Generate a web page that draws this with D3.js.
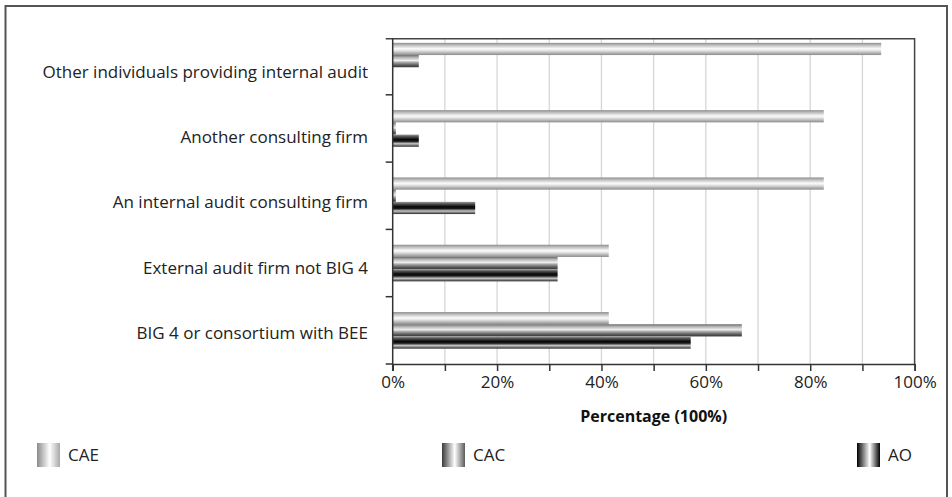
<!DOCTYPE html>
<html>
<head>
<meta charset="utf-8">
<script src="https://cdn.jsdelivr.net/npm/d3@7"></script>
<style>
  html, body { margin: 0; padding: 0; background: #fff; }
  svg { display: block; font-family: "Open Sans", "Noto Sans", sans-serif; }
</style>
</head>
<body>
<svg id="chart" width="952" height="497"></svg>
<script>
// Who performs the internal audit function, by respondent group
const categories = [
  "Other individuals providing internal audit",
  "Another consulting firm",
  "An internal audit consulting firm",
  "External audit firm not BIG 4",
  "BIG 4 or consortium with BEE"
];
const seriesNames = ["CAE", "CAC", "AO"];
const caeValues = [93.6, 82.6, 82.6, 41.4, 41.4];
const cacValues = [5.0, 0.6, 0.6, 31.6, 66.9];
const aoValues  = [0, 5.0, 15.8, 31.6, 57.1];
const xTickValues = [0, 10, 20, 30, 40, 50, 60, 70, 80, 90, 100];
const xTickLabels = ["0%", "", "20%", "", "40%", "", "60%", "", "80%", "", "100%"];
const xAxisTitle = "Percentage (100%)";

const seriesValues = { CAE: caeValues, CAC: cacValues, AO: aoValues };

const svg = d3.select("#chart");
const W = 952, H = 497;

// outer frame
svg.append("rect")
  .attr("x", 5.5).attr("y", 6).attr("width", 941.5).attr("height", H + 10)
  .attr("fill", "#fff").attr("stroke", "#555").attr("stroke-width", 2);

const plot = { left: 392.7, right: 914.6, top: 38.7, bottom: 364 };

// gradients
const defs = svg.append("defs");
const barStops = {
  CAE: [[0, "#8e8e8e"], [0.22, "#c4c4c4"], [0.48, "#fbfbfb"], [0.62, "#e6e6e6"], [0.85, "#b0b0b0"], [1, "#8a8a8a"]],
  CAC: [[0, "#6a6a6a"], [0.2, "#b5b5b5"], [0.45, "#efefef"], [0.6, "#a8a8a8"], [0.85, "#555555"], [1, "#3a3a3a"]],
  AO:  [[0, "#9a9a9a"], [0.18, "#505050"], [0.4, "#080808"], [0.55, "#1a1a1a"], [0.75, "#c8c8c8"], [1, "#2a2a2a"]]
};
const swatchStops = {
  CAE: [[0, "#8a8a8a"], [0.55, "#ffffff"], [1, "#a8a8a8"]],
  CAC: [[0, "#3a3a3a"], [0.55, "#ffffff"], [1, "#5a5a5a"]],
  AO:  [[0, "#000000"], [0.55, "#ffffff"], [1, "#000000"]]
};
seriesNames.forEach(s => {
  const g = defs.append("linearGradient").attr("id", "bar-" + s)
    .attr("x1", 0).attr("y1", 0).attr("x2", 0).attr("y2", 1);
  barStops[s].forEach(([o, c]) => g.append("stop").attr("offset", o).attr("stop-color", c));
  const h = defs.append("linearGradient").attr("id", "sw-" + s)
    .attr("x1", 0).attr("y1", 0).attr("x2", 1).attr("y2", 0);
  swatchStops[s].forEach(([o, c]) => h.append("stop").attr("offset", o).attr("stop-color", c));
});

// scales
const x = d3.scaleLinear().domain([0, 100]).range([plot.left, plot.right]);
const step = 67.3;
const y = d3.scaleBand().domain(categories)
  .range([plot.bottom - step * categories.length, plot.bottom])
  .paddingInner(0.456).paddingOuter(0.228);
const ySeries = d3.scaleBand().domain(seriesNames).range([0, y.bandwidth()]);
const yLabel = d3.scaleBand().domain(categories).range([plot.top, plot.bottom]);

// vertical gridlines
svg.append("g").selectAll("line").data(xTickValues.slice(1, -1)).join("line")
  .attr("x1", d => x(d)).attr("x2", d => x(d))
  .attr("y1", plot.top).attr("y2", plot.bottom)
  .attr("stroke", "#d6d6d6").attr("stroke-width", 1.3);

// bars
const rows = categories.map((c, i) => ({ cat: c, vals: seriesNames.map(s => ({ s, v: seriesValues[s][i] })) }));
svg.append("g").selectAll("g").data(rows).join("g")
  .attr("transform", d => `translate(0,${y(d.cat)})`)
  .selectAll("rect").data(d => d.vals).join("rect")
  .attr("x", x(0))
  .attr("y", d => ySeries(d.s))
  .attr("width", d => x(d.v) - x(0))
  .attr("height", ySeries.bandwidth())
  .attr("fill", d => `url(#bar-${d.s})`);

// plot border (top and right)
svg.append("path")
  .attr("d", `M${plot.left - 7},${plot.top}H${plot.right}V${plot.bottom}`)
  .attr("fill", "none").attr("stroke", "#444").attr("stroke-width", 1.5);

// x axis
const xAxis = d3.axisBottom(x).tickValues(xTickValues)
  .tickFormat((d, i) => xTickLabels[i]).tickSize(7).tickPadding(5);
const gx = svg.append("g").attr("transform", `translate(0,${plot.bottom})`).call(xAxis);
gx.select(".domain").attr("stroke", "#333").attr("stroke-width", 1.5);
gx.selectAll(".tick line").attr("stroke", "#333").attr("stroke-width", 1.5);
gx.selectAll(".tick text").attr("font-size", 17).attr("fill", "#222")
  .attr("font-family", "'Open Sans', sans-serif");

// y axis line and category boundary ticks
svg.append("line")
  .attr("x1", plot.left).attr("x2", plot.left)
  .attr("y1", plot.top).attr("y2", plot.bottom + 7)
  .attr("stroke", "#333").attr("stroke-width", 1.5);
const gap = (y.step() - y.bandwidth()) / 2;
const boundaries = categories.map(c => y(c) - gap).filter(v => v > plot.top + 1);
svg.append("g").selectAll("line").data(boundaries).join("line")
  .attr("x1", plot.left - 7).attr("x2", plot.left)
  .attr("y1", d => d).attr("y2", d => d)
  .attr("stroke", "#333").attr("stroke-width", 1.5);
svg.append("line")
  .attr("x1", plot.left - 7).attr("x2", plot.left)
  .attr("y1", plot.bottom).attr("y2", plot.bottom)
  .attr("stroke", "#333").attr("stroke-width", 1.5);

// category labels
svg.append("g").selectAll("text").data(categories).join("text")
  .attr("x", 368)
  .attr("y", d => yLabel(d) + yLabel.bandwidth() / 2)
  .attr("dy", "0.42em")
  .attr("text-anchor", "end")
  .attr("font-size", 17).attr("fill", "#222")
  .text(d => d);

// axis title
svg.append("text")
  .attr("x", (plot.left + plot.right) / 2).attr("y", 422)
  .attr("text-anchor", "middle")
  .attr("font-size", 16).attr("font-weight", "bold").attr("fill", "#111")
  .text(xAxisTitle);

// legend
const legendX = { CAE: 37, CAC: 442, AO: 857 };
const lg = svg.append("g").selectAll("g").data(seriesNames).join("g")
  .attr("transform", d => `translate(${legendX[d]},443)`);
lg.append("rect").attr("width", 23).attr("height", 24)
  .attr("fill", d => `url(#sw-${d})`);
lg.append("text").attr("x", 31).attr("y", 12).attr("dy", "0.36em")
  .attr("font-size", 17).attr("fill", "#222")
  .text(d => d);
</script>
</body>
</html>
